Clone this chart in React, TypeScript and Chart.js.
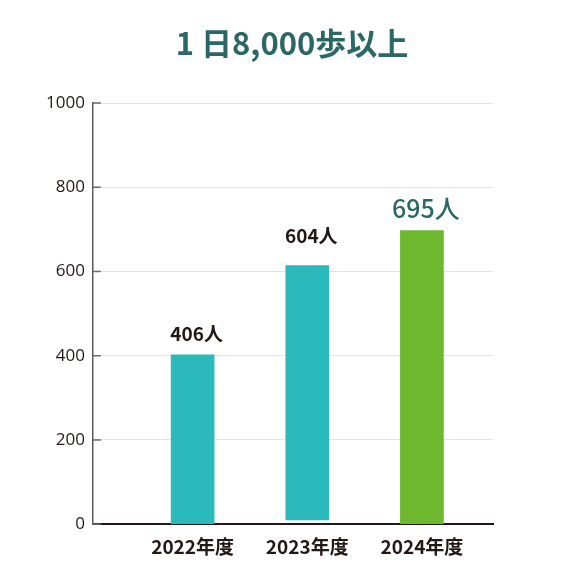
import { useEffect, useRef } from "react";
import { Chart, registerables } from "chart.js";

Chart.register(...registerables);

const title = "1 日8,000歩以上";
const years = [2022, 2023, 2024];
const yearSuffix = "年度";
const people = [406, 604, 695];
// bar ends (2023 bar floats a little above the axis)
const barStart = [0, 10, 0];
const barEnd = [402, 614, 697];
const yTicks = [0, 200, 400, 600, 800, 1000];

const TEAL = "#2bb9bb";
const GREEN = "#6db82f";
const DARK = "#231815";
const TITLE_COLOR = "#2b6765";
const barColors = [TEAL, TEAL, GREEN];
const labelColors = [DARK, DARK, TITLE_COLOR];
const labelSizes = [19, 19, 25];
const labelWeights = ["bold", "bold", "500"];
const labelGaps = [12, 20, 10];
const FONT = "'Noto Sans CJK JP', 'Noto Sans', sans-serif";

const valueLabels = {
  id: "valueLabels",
  afterDatasetsDraw(chart: Chart) {
    const ctx = chart.ctx;
    const meta = chart.getDatasetMeta(0);
    ctx.save();
    ctx.textAlign = "center";
    ctx.textBaseline = "bottom";
    meta.data.forEach((bar: any, i: number) => {
      ctx.font = `${labelWeights[i]} ${labelSizes[i]}px ${FONT}`;
      ctx.fillStyle = labelColors[i];
      ctx.fillText(`${people[i]}人`, bar.x + 4, bar.y - labelGaps[i]);
    });
    ctx.restore();
  },
};

// short dark tick marks drawn inside the plot next to the y axis
const innerTicks = {
  id: "innerTicks",
  afterDraw(chart: Chart) {
    const ctx = chart.ctx;
    const y = chart.scales.y;
    const left = chart.chartArea.left;
    ctx.save();
    ctx.strokeStyle = "#6b6b6b";
    ctx.lineWidth = 1.5;
    y.ticks.forEach((_t, i) => {
      const py = y.getPixelForTick(i);
      ctx.beginPath();
      ctx.moveTo(left, py);
      ctx.lineTo(left + 8, py);
      ctx.stroke();
    });
    ctx.restore();
  },
};

export default function App() {
  const chartRef = useRef<HTMLCanvasElement>(null);
  const chartInstance = useRef<Chart | null>(null);

  useEffect(() => {
    document.body.style.margin = "0";
    if (!chartRef.current) return;
    if (chartInstance.current) chartInstance.current.destroy();
    const ctx = chartRef.current.getContext("2d");
    if (!ctx) return;

    chartInstance.current = new Chart(ctx, {
      type: "bar",
      data: {
        datasets: [
          {
            data: years.map((yr, i) => ({ x: yr, y: [barStart[i], barEnd[i]] })) as any,
            backgroundColor: barColors,
            barThickness: 43,
            borderWidth: 0,
          },
        ],
      },
      plugins: [valueLabels, innerTicks],
      options: {
        animation: false,
        responsive: true,
        maintainAspectRatio: false,
        layout: { padding: { left: 38, right: 79, top: 103, bottom: 10 } },
        plugins: {
          legend: { display: false },
          tooltip: { enabled: false },
          title: { display: false },
        },
        scales: {
          x: {
            type: "linear",
            offset: false,
            min: 2021.13,
            max: 2024.62,
            afterBuildTicks: (scale: any) => {
              scale.ticks = years.map((v) => ({ value: v }));
            },
            grid: { display: false, offset: false },
            border: { display: true, color: "#231815", width: 2 },
            ticks: {
              color: DARK,
              padding: 3,
              font: { family: FONT, size: 19, weight: "bold" },
              callback: (v: any) => `${v}${yearSuffix}`,
            },
          },
          y: {
            min: 0,
            max: 1000,
            afterBuildTicks: (scale: any) => {
              scale.ticks = yTicks.map((v) => ({ value: v }));
            },
            grid: { color: "#e3e3e3", lineWidth: 1, drawTicks: false },
            border: { display: true, color: "#5a5a5a", width: 1.5 },
            ticks: {
              color: DARK,
              padding: 8,
              font: { family: "'Open Sans', 'Noto Sans', sans-serif", size: 17 },
              callback: (v: any) => `${v}`,
            },
          },
        },
      },
    });

    return () => {
      if (chartInstance.current) {
        chartInstance.current.destroy();
        chartInstance.current = null;
      }
    };
  }, []);

  return (
    <div style={{ width: 572, height: 571, position: "relative", background: "#fff" }}>
      <div
        style={{
          position: "absolute",
          left: 0,
          width: 584,
          top: 22,
          textAlign: "center",
          fontFamily: FONT,
          fontWeight: "bold",
          fontSize: 31,
          lineHeight: "40px",
          color: TITLE_COLOR,
        }}
      >
        {title}
      </div>
      <canvas ref={chartRef}></canvas>
    </div>
  );
}
